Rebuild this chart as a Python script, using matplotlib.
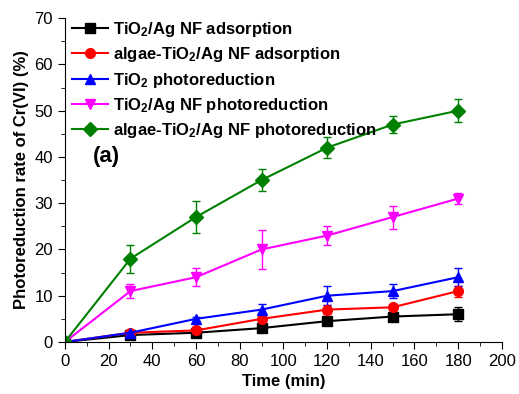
# Cr(VI) photoreduction rate vs time, five samples with error bars

import matplotlib.pyplot as plt
from matplotlib.lines import Line2D
from matplotlib.ticker import MultipleLocator

plt.rcParams['font.family'] = ['Liberation Sans', 'DejaVu Sans']
plt.rcParams['mathtext.fontset'] = 'custom'
plt.rcParams['mathtext.rm'] = 'Liberation Sans:bold'
plt.rcParams['mathtext.bf'] = 'Liberation Sans:bold'
plt.rcParams['mathtext.default'] = 'rm'

time = [0, 30, 60, 90, 120, 150, 180]

labels = [
    r'TiO$_2$/Ag NF adsorption',
    r'algae-TiO$_2$/Ag NF adsorption',
    r'TiO$_2$ photoreduction',
    r'TiO$_2$/Ag NF photoreduction',
    r'algae-TiO$_2$/Ag NF photoreduction',
]

tio2_ag_ads = [0, 1.5, 2.0, 3.0, 4.5, 5.5, 6.0]
tio2_ag_ads_err = [0, 0.3, 0.4, 0.4, 0.5, 0.6, 1.5]
algae_ads = [0, 2.0, 2.5, 5.0, 7.0, 7.5, 11.0]
algae_ads_err = [0, 0.3, 0.4, 0.5, 1.0, 0.5, 1.2]
tio2_photo = [0, 2.0, 5.0, 7.0, 10.0, 11.0, 14.0]
tio2_photo_err = [0, 0.3, 0.5, 1.2, 2.0, 1.5, 2.0]
tio2_ag_photo = [0, 11.0, 14.0, 20.0, 23.0, 27.0, 31.0]
tio2_ag_photo_err = [0, 1.5, 2.0, 4.3, 2.0, 2.5, 1.2]
algae_photo = [0, 18.0, 27.0, 35.0, 42.0, 47.0, 50.0]
algae_photo_err = [0, 3.0, 3.5, 2.3, 2.3, 1.8, 2.5]

series = [tio2_ag_ads, algae_ads, tio2_photo, tio2_ag_photo, algae_photo]
errors = [tio2_ag_ads_err, algae_ads_err, tio2_photo_err, tio2_ag_photo_err, algae_photo_err]
colors = ['black', 'red', 'blue', 'magenta', 'green']
markers = ['s', 'o', '^', 'v', 'D']

fig = plt.figure(figsize=(5.19, 3.94), dpi=100)
ax = fig.add_axes([0.125, 0.132, 0.842, 0.822])

handles = []
for y, e, c, m, lab in zip(series, errors, colors, markers, labels):
    ax.errorbar(time, y, yerr=e, color=c, marker=m, markersize=7, lw=1.5,
                capsize=3, elinewidth=1, capthick=1)
    handles.append(Line2D([], [], color=c, marker=m, markersize=7, lw=1.5, label=lab))

ax.set_xlim(0, 200)
ax.set_ylim(0, 70)
ax.xaxis.set_major_locator(MultipleLocator(20))
ax.xaxis.set_minor_locator(MultipleLocator(10))
ax.yaxis.set_major_locator(MultipleLocator(10))
ax.yaxis.set_minor_locator(MultipleLocator(5))
ax.spines['top'].set_visible(False)
ax.spines['right'].set_visible(False)
ax.tick_params(which='both', direction='out', labelsize=12)
ax.tick_params(which='major', length=5)
ax.tick_params(which='minor', length=3)

ax.set_xlabel('Time (min)', fontsize=12, fontweight='bold')
ax.set_ylabel('Photoreduction rate of Cr(VI) (%)', fontsize=12, fontweight='bold')
ax.text(19, 40, '(a)', fontsize=16, fontweight='bold', ha='center', va='center')

ax.legend(handles=handles, loc='upper left', frameon=False,
          prop={'weight': 'bold', 'size': 12},
          handlelength=2.2, handletextpad=0.3, labelspacing=0.38,
          borderaxespad=0.0, bbox_to_anchor=(0.0, 1.015))

fig.savefig('out.png', dpi=100)
